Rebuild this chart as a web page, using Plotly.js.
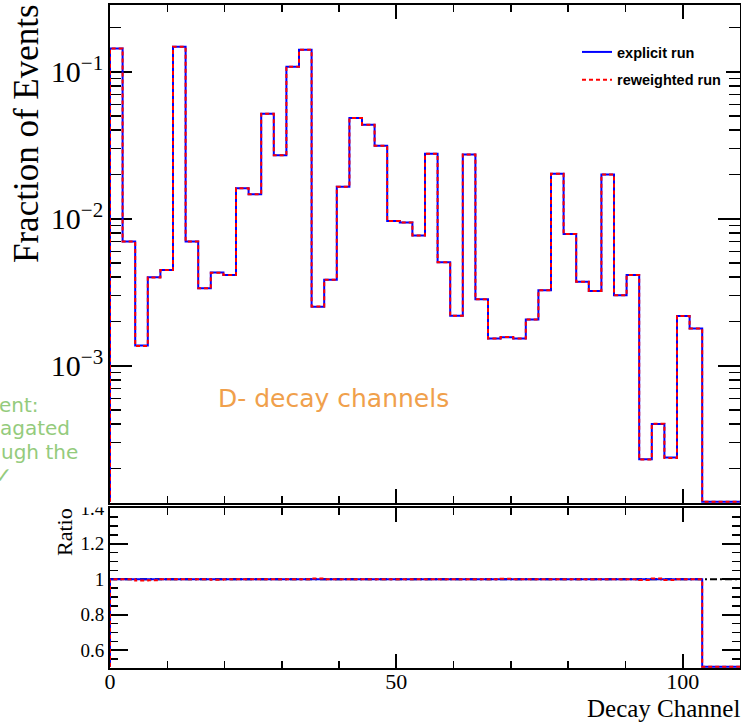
<!DOCTYPE html>
<html>
<head>
<meta charset="utf-8">
<script src="https://cdn.plot.ly/plotly-3.0.1.min.js"></script>
<style>
  html, body { margin: 0; padding: 0; background: #ffffff; }
  #chart { width: 741px; height: 722px; }
</style>
</head>
<body>
<div id="chart"></div>
<script>
// ---------------- DATA ----------------
// Decay-channel histogram bin edges (50 bins over 0..110)
const binEdges = [0, 2.2, 4.4, 6.6, 8.8, 11, 13.2, 15.4, 17.6, 19.8,
  22, 24.2, 26.4, 28.6, 30.8, 33, 35.2, 37.4, 39.6, 41.8,
  44, 46.2, 48.4, 50.6, 52.8, 55, 57.2, 59.4, 61.6, 63.8,
  66, 68.2, 70.4, 72.6, 74.8, 77, 79.2, 81.4, 83.6, 85.8,
  88, 90.2, 92.4, 94.6, 96.8, 99, 101.2, 103.4, 105.6, 107.8, 110];

// Fraction of events per bin, explicit run
const explicitRun = [0.144, 0.0070, 0.00137, 0.0040, 0.00448, 0.148, 0.0070, 0.00336, 0.0043, 0.00414,
  0.0161, 0.0147, 0.0518, 0.027, 0.108, 0.141, 0.00252, 0.00385, 0.0165, 0.0484,
  0.0436, 0.0314, 0.00964, 0.00944, 0.0077, 0.0277, 0.00505, 0.00219, 0.0274, 0.00283,
  0.00153, 0.00156, 0.00153, 0.00206, 0.00326, 0.0202, 0.00787, 0.00373, 0.00322, 0.0200,
  0.00301, 0.00414, 0.000231, 0.000401, 0.000237, 0.00218, 0.00179, 0, 0, 0];

// Fraction of events per bin, reweighted run
const reweightedRun = [0.144, 0.0070, 0.00136, 0.00398, 0.00448, 0.148, 0.0070, 0.00336, 0.00429, 0.00414,
  0.0161, 0.0147, 0.0518, 0.027, 0.108, 0.141, 0.00253, 0.00385, 0.0165, 0.0484,
  0.0436, 0.0314, 0.00964, 0.00944, 0.0077, 0.0277, 0.00505, 0.00219, 0.0274, 0.00283,
  0.00153, 0.001565, 0.00153, 0.00206, 0.00326, 0.0202, 0.00787, 0.00373, 0.00322, 0.0200,
  0.00301, 0.00414, 0.00023, 0.000403, 0.000236, 0.00218, 0.00179, 0, 0, 0];

const ratioReference = 1;
const xTickVals = [0, 50, 100];
const ratioTickVals = [0.6, 0.8, 1, 1.2, 1.4];
const legendNames = ["explicit run", "reweighted run"];

// ---------------- HELPERS ----------------
const W = 741, H = 722;
const M = {l: 110, r: 1, t: 5, b: 54};
const plotW = W - M.l - M.r, plotH = H - M.t - M.b;
const px = x => (x - M.l) / plotW;
const py = y => (H - M.b - y) / plotH;

const topRange = [-3.934, -0.546];
const ratioRange = [0.5, 1.4];
const topFloor = Math.pow(10, topRange[0] + 0.008);
const ratioFloor = ratioRange[0] + 0.007;

function ratioOf(num, den) {
  return num.map((v, i) => den[i] > 0 ? v / den[i] : 0);
}
function step(values, floor) {
  const xs = [binEdges[0]], ys = [floor];
  values.forEach((v, i) => { xs.push(binEdges[i]); ys.push(v > 0 ? v : floor); });
  xs.push(binEdges[binEdges.length - 1]);
  ys.push(values[values.length - 1] > 0 ? values[values.length - 1] : floor);
  return {x: xs, y: ys};
}

const ratioExplicit = ratioOf(explicitRun, explicitRun);
const ratioReweighted = ratioOf(reweightedRun, explicitRun);

const BLUE = '#0000ff', RED = '#ff0000';
const DASH = '4px,3px';

const sExp = step(explicitRun, topFloor);
const sRew = step(reweightedRun, topFloor);
const rExp = step(ratioExplicit, ratioFloor);
const rRew = step(ratioReweighted, ratioFloor);

const traces = [
  {x: sExp.x, y: sExp.y, xaxis: 'x', yaxis: 'y', mode: 'lines', name: legendNames[0],
   legendgroup: 'a', line: {color: BLUE, width: 2, shape: 'hv'}, hoverinfo: 'skip'},
  {x: sRew.x, y: sRew.y, xaxis: 'x', yaxis: 'y', mode: 'lines', name: legendNames[1],
   legendgroup: 'b', line: {color: RED, width: 2, shape: 'hv', dash: DASH}, hoverinfo: 'skip'},
  {x: rExp.x, y: rExp.y, xaxis: 'x2', yaxis: 'y2', mode: 'lines', showlegend: false,
   line: {color: BLUE, width: 2, shape: 'hv'}, hoverinfo: 'skip'},
  {x: rRew.x, y: rRew.y, xaxis: 'x2', yaxis: 'y2', mode: 'lines', showlegend: false,
   line: {color: RED, width: 2, shape: 'hv', dash: DASH}, hoverinfo: 'skip'}
];

const serif = 'Liberation Serif, Times New Roman, serif';
const slide = 'DejaVu Sans, sans-serif';
const commonX = {
  range: [binEdges[0], binEdges[binEdges.length - 1]],
  showline: true, linecolor: 'black', linewidth: 2, mirror: 'ticks',
  ticks: 'inside', ticklen: 14, tickwidth: 2, tickcolor: 'black',
  tickvals: xTickVals, showgrid: false, zeroline: false, layer: 'below traces',
  minor: {ticks: 'inside', ticklen: 7, tickwidth: 1.5, tickcolor: 'black', dtick: 10, showgrid: false}
};

const layout = {
  width: W, height: H, autosize: false,
  margin: M,
  paper_bgcolor: 'white', plot_bgcolor: 'white',
  showlegend: true,
  legend: {
    x: px(577), y: py(36), xanchor: 'left', yanchor: 'top',
    bgcolor: 'rgba(255,255,255,1)', borderwidth: 0,
    font: {family: 'Liberation Sans, Arial, sans-serif', size: 14.5, color: 'black', weight: 'bold'},
    tracegroupgap: 6, traceorder: 'grouped', itemwidth: 30
  },
  xaxis: Object.assign({}, commonX, {anchor: 'y', domain: [0, 1], showticklabels: false}),
  xaxis2: Object.assign({}, commonX, {anchor: 'y2', domain: [0, 1], showticklabels: true,
    ticklabelstandoff: -7,
    tickfont: {family: serif, size: 22, color: 'black'}}),
  yaxis: {
    type: 'log', range: topRange, domain: [py(503), 1], anchor: 'x',
    showline: true, linecolor: 'black', linewidth: 2, mirror: 'ticks',
    ticks: 'inside', ticklen: 22, tickwidth: 2, tickcolor: 'black',
    dtick: 1, exponentformat: 'power', showgrid: false, zeroline: false, layer: 'below traces',
    tickfont: {family: serif, size: 24, color: 'black'},
    minor: {ticks: 'inside', ticklen: 11, tickwidth: 1.5, tickcolor: 'black', dtick: 'D1', showgrid: false}
  },
  yaxis2: {
    range: ratioRange, domain: [0, py(508.3)], anchor: 'x2',
    showline: true, linecolor: 'black', linewidth: 2, mirror: 'ticks',
    ticks: 'inside', ticklen: 18, tickwidth: 2, tickcolor: 'black',
    tickvals: ratioTickVals, showgrid: false, zeroline: false, layer: 'below traces',
    tickfont: {family: serif, size: 19, color: 'black'},
    minor: {ticks: 'inside', ticklen: 8, tickwidth: 1.5, tickcolor: 'black', dtick: 0.05, tick0: 0, showgrid: false}
  },
  shapes: [
    {type: 'line', xref: 'x2 domain', yref: 'y2', x0: 0, x1: 1, y0: ratioReference, y1: ratioReference,
     line: {color: 'black', width: 2, dash: '7px,3px,2px,3px'}, layer: 'below'},
    {type: 'rect', xref: 'paper', yref: 'paper', x0: px(30), x1: px(107), y0: py(507.5), y1: py(490),
     fillcolor: 'white', line: {width: 0}, layer: 'above'}
  ],
  annotations: [
    {text: 'Fraction of Events', xref: 'paper', yref: 'paper', x: px(27), y: py(134),
     xanchor: 'center', yanchor: 'middle', textangle: -90, showarrow: false,
     font: {family: serif, size: 35, color: 'black'}},
    {text: 'Ratio', xref: 'paper', yref: 'paper', x: px(64), y: py(532),
     xanchor: 'center', yanchor: 'middle', textangle: -90, showarrow: false,
     font: {family: serif, size: 22, color: 'black'}},
    {text: 'Decay Channel', xref: 'paper', yref: 'paper', x: px(742), y: py(708),
     xanchor: 'right', yanchor: 'middle', showarrow: false,
     font: {family: serif, size: 25, color: 'black'}},
    {text: 'D- decay channels', xref: 'paper', yref: 'paper', x: px(333), y: py(398),
     xanchor: 'center', yanchor: 'middle', showarrow: false,
     font: {family: slide, size: 25, color: '#F0A04B'}},
    {text: 'ent:', xref: 'paper', yref: 'paper', x: px(41), y: py(405),
     xanchor: 'right', yanchor: 'middle', showarrow: false,
     font: {family: slide, size: 20, color: '#94CB7C'}},
    {text: 'agated', xref: 'paper', yref: 'paper', x: px(72), y: py(428),
     xanchor: 'right', yanchor: 'middle', showarrow: false,
     font: {family: slide, size: 20, color: '#94CB7C'}},
    {text: 'ugh the', xref: 'paper', yref: 'paper', x: px(80), y: py(452),
     xanchor: 'right', yanchor: 'middle', showarrow: false,
     font: {family: slide, size: 20, color: '#94CB7C'}},
    {text: '✓', xref: 'paper', yref: 'paper', x: px(14), y: py(476),
     xanchor: 'right', yanchor: 'middle', showarrow: false,
     font: {family: slide, size: 22, color: '#94CB7C'}}
  ]
};

Plotly.newPlot('chart', traces, layout, {displayModeBar: false, staticPlot: true});
</script>
</body>
</html>
